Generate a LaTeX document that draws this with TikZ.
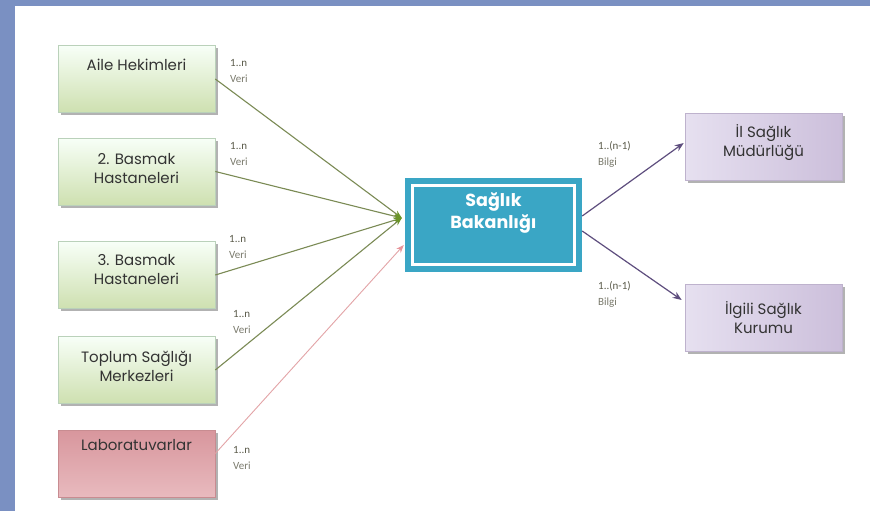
\documentclass[tikz,border=0pt]{standalone}
\usepackage{fontspec}
\setmainfont{Poppins}
\newfontfamily\lblfont{Carlito}
\usetikzlibrary{shadows,arrows.meta}
\definecolor{framec}{HTML}{7A90C2}
\definecolor{gline}{HTML}{7B8B55}
\definecolor{gtip}{HTML}{6A9428}
\definecolor{pline}{HTML}{E3A4A7}
\definecolor{ptip}{HTML}{E8959B}
\definecolor{vline}{HTML}{5E4E7E}
\definecolor{teal}{HTML}{3AA6C5}
\definecolor{txtc}{HTML}{333333}
\definecolor{lblA}{HTML}{5A5A4A}
\definecolor{lblB}{HTML}{7A7A6C}
\tikzset{
  boxbase/.style={minimum width=157pt, minimum height=67pt, inner sep=0pt, line width=0.6pt,
    drop shadow={shadow xshift=2.5pt, shadow yshift=-2.5pt, fill=black!60, opacity=0.5}},
  gbox/.style={boxbase, draw=green!20!gray!45, top color=green!3!white, bottom color={rgb,255:red,206;green,224;blue,176}},
  rbox/.style={boxbase, draw={rgb,255:red,200;green,140;blue,145}, top color={rgb,255:red,216;green,150;blue,157}, bottom color={rgb,255:red,232;green,186;blue,190}},
  vbox/.style={boxbase, draw={rgb,255:red,190;green,178;blue,205}, left color={rgb,255:red,230;green,224;blue,240}, right color={rgb,255:red,204;green,191;blue,219}},
  btxt/.style={font=\fontsize{15}{19}\selectfont, text=txtc, align=center, inner sep=0pt},
  lbl/.style={font=\lblfont\fontsize{11}{16}\selectfont, align=left, anchor=west, inner sep=0pt},
  garrow/.style={draw=gline, line width=1.1pt, -{Stealth[length=8pt,width=6pt,color=gtip]}},
  parrow/.style={draw=pline, line width=0.9pt, -{Stealth[length=8pt,width=6pt,color=ptip]}},
  varrow/.style={draw=vline, line width=1.2pt, -{Stealth[length=9pt,width=7pt]}},
}
\begin{document}
\begin{tikzpicture}[x=1pt,y=-1pt]
\useasboundingbox (0,0) rectangle (870,511);
\fill[framec] (0,0) rectangle (870,511);
\fill[white] (15,6) rectangle (870,511);

% left boxes
\node[gbox] (aile) at (136.5,79) {};
\node[gbox] (bas2) at (136.5,171.5) {};
\node[gbox] (bas3) at (136.5,275) {};
\node[gbox] (toplum) at (136.5,370) {};
\node[rbox] (lab) at (136.5,463.5) {};

\node[btxt] (taile) at (136.5,65) {Aile Hekimleri};
\node[btxt] (tbas2) at (136.5,168.5) {2. Basmak\\Hastaneleri};
\node[btxt] (tbas3) at (136.5,270) {3. Basmak\\Hastaneleri};
\node[btxt] (ttoplum) at (136.5,366.5) {Toplum Sağlığı\\Merkezleri};
\node[btxt] (tlab) at (136.5,445) {Laboratuvarlar};

% right boxes
\node[vbox] (il) at (763.5,147) {};
\node[vbox] (ilgili) at (763.5,318) {};
\node[btxt] (til) at (763.5,142.5) {İl Sağlık\\Müdürlüğü};
\node[btxt] (tilgili) at (763.5,317.5) {İlgili Sağlık\\Kurumu};

% center box
\node[minimum width=177pt, minimum height=94pt, inner sep=0pt, fill=teal] (bak) at (493.5,225) {};
\draw[white, line width=3pt] ([xshift=8pt,yshift=-8pt]bak.north west) rectangle ([xshift=-8pt,yshift=8pt]bak.south east);
\node[font=\fontsize{17.5}{22}\selectfont\bfseries, text=white, align=center, inner sep=0pt] (tbak) at (493.5,212.5) {Sağlık\\Bakanlığı};

% connectors
\draw[garrow] (aile.east) -- ([xshift=-3pt,yshift=7pt]bak.west);
\draw[garrow] (bas2.east) -- ([xshift=-3pt,yshift=7pt]bak.west);
\draw[garrow] (bas3.east) -- ([xshift=-3pt,yshift=7pt]bak.west);
\draw[garrow] (toplum.east) -- ([xshift=-3pt,yshift=7pt]bak.west);
\draw[parrow] ([yshift=10pt]lab.east) -- ([xshift=-1pt,yshift=-20pt]bak.west);
\draw[varrow] ([yshift=9pt]bak.east) -- ([xshift=-1pt,yshift=4pt]il.west);
\draw[varrow] ([yshift=-6pt]bak.east) -- ([xshift=-3pt,yshift=18pt]ilgili.west);

% labels
\node[lbl] (l1) at (230,71) {\textcolor{lblA}{1..n}\\\textcolor{lblB}{Veri}};
\node[lbl] (l2) at (230,153.5) {\textcolor{lblA}{1..n}\\\textcolor{lblB}{Veri}};
\node[lbl] (l3) at (229,246.5) {\textcolor{lblA}{1..n}\\\textcolor{lblB}{Veri}};
\node[lbl] (l4) at (233,321.5) {\textcolor{lblA}{1..n}\\\textcolor{lblB}{Veri}};
\node[lbl] (l5) at (233,457.5) {\textcolor{lblA}{1..n}\\\textcolor{lblB}{Veri}};
\node[lbl] (l6) at (598,154) {\textcolor{lblA}{1..(n-1)}\\\textcolor{lblB}{Bilgi}};
\node[lbl] (l7) at (598,294.5) {\textcolor{lblA}{1..(n-1)}\\\textcolor{lblB}{Bilgi}};
\end{tikzpicture}
\end{document}
